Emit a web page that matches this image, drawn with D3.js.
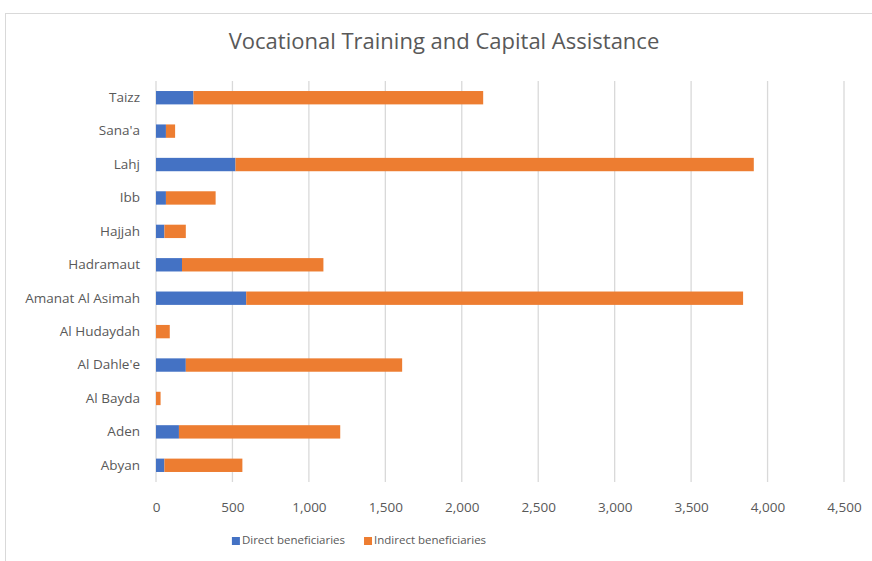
<!DOCTYPE html>
<html>
<head>
<meta charset="utf-8">
<script src="https://cdn.jsdelivr.net/npm/d3@7"></script>
<style>
  body { margin: 0; background: #fff; }
  text { font-family: "Open Sans", sans-serif; fill: #595959; }
</style>
</head>
<body>
<div id="chart"></div>
<script>
// categories listed top to bottom as in the picture
const regions = ["Taizz", "Sana'a", "Lahj", "Ibb", "Hajjah", "Hadramaut",
    "Amanat Al Asimah", "Al Hudaydah", "Al Dahle'e", "Al Bayda", "Aden", "Abyan"];
const direct = [245, 65, 520, 65, 55, 170, 590, 0, 195, 0, 150, 55];
const indirect = [1895, 60, 3390, 325, 140, 925, 3250, 90, 1415, 30, 1055, 510];
const seriesNames = ["Direct beneficiaries", "Indirect beneficiaries"];
const colors = ["#4472C4", "#ED7D31"];
const xTicks = [0, 500, 1000, 1500, 2000, 2500, 3000, 3500, 4000, 4500];

const W = 872, H = 561;
const plot = { left: 156, right: 844, top: 81, bottom: 482 };

const svg = d3.select("#chart").append("svg")
    .attr("width", W)
    .attr("height", H);

// chart outline (cut off at right and bottom in the picture)
svg.append("rect")
    .attr("x", 5.5).attr("y", 13.5)
    .attr("width", W + 10).attr("height", H + 10)
    .attr("fill", "none")
    .attr("stroke", "#d9d9d9");

svg.append("text")
    .attr("x", 444).attr("y", 43)
    .attr("text-anchor", "middle")
    .attr("dominant-baseline", "middle")
    .style("font-size", "22px")
    .text("Vocational Training and Capital Assistance");

const x = d3.scaleLinear().domain([0, 4500]).range([plot.left, plot.right]);
const y = d3.scaleBand().domain(regions)
    .range([plot.top, plot.bottom])
    .paddingInner(0.6).paddingOuter(0.3);

// gridlines
svg.append("g").selectAll("line")
    .data(xTicks)
    .enter().append("line")
    .attr("x1", d => x(d)).attr("x2", d => x(d))
    .attr("y1", plot.top).attr("y2", plot.bottom)
    .attr("stroke", "#d9d9d9")
    .attr("stroke-width", 1.3);

// stacked bars
const rows = regions.map((r, i) => ({ region: r, values: [direct[i], indirect[i]] }));
const stack = d3.stack().keys([0, 1]).value((d, k) => d.values[k]);
const layers = stack(rows);

svg.append("g").selectAll("g")
    .data(layers)
    .enter().append("g")
    .attr("fill", (d, i) => colors[i])
    .selectAll("rect")
    .data(d => d)
    .enter().append("rect")
    .attr("x", d => x(d[0]))
    .attr("width", d => x(d[1]) - x(d[0]))
    .attr("y", d => y(d.data.region))
    .attr("height", y.bandwidth());

// x axis labels
const xAxis = svg.append("g")
    .attr("transform", `translate(0,${plot.bottom})`)
    .call(d3.axisBottom(x).tickValues(xTicks).tickFormat(d3.format(",")).tickSize(0).tickPadding(20));
xAxis.select(".domain").remove();
xAxis.selectAll("text").style("font-size", "13.5px").style("fill", "#595959").style("font-family", "Open Sans");

// category labels
const yAxis = svg.append("g")
    .attr("transform", `translate(${plot.left},0)`)
    .call(d3.axisLeft(y).tickSize(0).tickPadding(16));
yAxis.select(".domain").remove();
yAxis.selectAll("text").style("font-size", "13.5px").style("fill", "#595959").style("font-family", "Open Sans");

// legend, laid out from measured text widths and centred
const legend = svg.append("g");
let cursor = 0;
seriesNames.forEach((name, i) => {
    const g = legend.append("g").attr("transform", `translate(${cursor},0)`);
    g.append("rect")
        .attr("x", 0).attr("y", -4)
        .attr("width", 8).attr("height", 8)
        .attr("fill", colors[i]);
    const t = g.append("text")
        .attr("x", 10).attr("y", 0)
        .attr("dominant-baseline", "middle")
        .style("font-size", "11.5px")
        .text(name);
    cursor += 10 + t.node().getComputedTextLength() + 19;
});
const legendW = cursor - 19;
legend.attr("transform", `translate(${359 - legendW / 2},541)`);
</script>
</body>
</html>
